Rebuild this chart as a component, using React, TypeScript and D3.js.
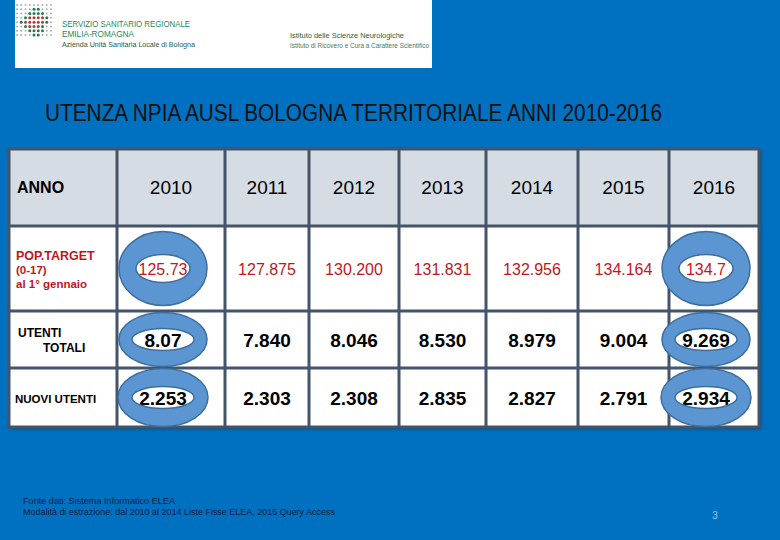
import React from "react";
import * as d3 from "d3";

// table content
const years = ["2010", "2011", "2012", "2013", "2014", "2015", "2016"];
const rowLabels = [
  ["POP.TARGET", "(0-17)", "al 1° gennaio"],
  ["UTENTI", "TOTALI"],
  ["NUOVI UTENTI"],
];
const popTarget = ["125.73", "127.875", "130.200", "131.831", "132.956", "134.164", "134.7"];
const utentiTotali = ["8.07", "7.840", "8.046", "8.530", "8.979", "9.004", "9.269"];
const nuoviUtenti = ["2.253", "2.303", "2.308", "2.835", "2.827", "2.791", "2.934"];
const circledYears = ["2010", "2016"];

const title = "UTENZA NPIA AUSL BOLOGNA TERRITORIALE ANNI 2010-2016";
const footer = [
  "Fonte dati: Sistema Informatico ELEA",
  "Modalità di estrazione: dal 2010 al 2014 Liste Fisse ELEA, 2015 Query Access",
];

// logo dot pattern: . light, G green, R red
const dotPattern = [
  ".........",
  "....GG...",
  "...GGGG..",
  "..GRRRRG.",
  ".GRRRRRG.",
  "..GRRRG..",
  "...GGGG..",
  "....GG...",
];

const W = 780;
const H = 540;
const BLUE = "#0070C0";
const BORDER = "#44546A";
const RED = "#C0161E";
const RING = "#5B96D2";
const RING_STROKE = "#3E6E9E";

const tableLeft = 9;
const tableTop = 149;
const colWidths = [108, 108, 84, 90, 87, 92, 91, 90];
const rowHeights = [77, 85, 57, 59];

const colEdges = [tableLeft, ...Array.from(d3.cumsum(colWidths), (d) => tableLeft + d)];
const rowEdges = [tableTop, ...Array.from(d3.cumsum(rowHeights), (d) => tableTop + d)];
const tableRight = colEdges[colEdges.length - 1];
const tableBottom = rowEdges[rowEdges.length - 1];

// year -> column center
const xCol = d3.scaleOrdinal<string, number>()
  .domain(years)
  .range(years.map((_, i) => (colEdges[i + 1] + colEdges[i + 2]) / 2));

const rowMid = (r: number) => (rowEdges[r] + rowEdges[r + 1]) / 2;

// ring shape per body row: outer rx, ry, hole rx, ry
const ringSizes = [
  { rx: 44, ry: 37, hrx: 27, hry: 14 },
  { rx: 44, ry: 27, hrx: 31, hry: 11 },
  { rx: 45, ry: 29, hrx: 31, hry: 11 },
];

function ellipsePath(cx: number, cy: number, rx: number, ry: number) {
  return `M${cx - rx},${cy}a${rx},${ry} 0 1,0 ${2 * rx},0a${rx},${ry} 0 1,0 ${-2 * rx},0Z`;
}

const bodyRows = [
  { values: popTarget, color: RED, size: 16, weight: "normal" },
  { values: utentiTotali, color: "#000", size: 19, weight: "bold" },
  { values: nuoviUtenti, color: "#000", size: 19, weight: "bold" },
];

const font = "'Liberation Sans', Arial, sans-serif";
const narrow = "'Liberation Sans Narrow', 'Liberation Sans', Arial, sans-serif";

function Logo() {
  const dx = d3.scaleLinear().domain([0, 8]).range([17, 51]);
  const dy = d3.scaleLinear().domain([0, 7]).range([5, 35]);
  const dotColor = { ".": "#A9B3AE", G: "#1E7F4E", R: "#B23A34" } as Record<string, string>;
  return (
    <g>
      <rect x={15} y={0} width={417} height={68} fill="#fff" />
      {dotPattern.map((row, r) =>
        row.split("").map((c, i) => (
          <circle key={`${r}-${i}`} cx={dx(i)} cy={dy(r)} r={c === "." ? 1 : 1.5} fill={dotColor[c]} />
        ))
      )}
      <text x={62} y={27} fontFamily={font} fontSize={9.5} fill="#23885A" textLength={128} lengthAdjust="spacingAndGlyphs">
        SERVIZIO SANITARIO REGIONALE
      </text>
      <text x={62} y={37} fontFamily={font} fontSize={9.5} fill="#23885A" textLength={72} lengthAdjust="spacingAndGlyphs">
        EMILIA-ROMAGNA
      </text>
      <text x={62} y={47} fontFamily={font} fontSize={7.5} fill="#1F5E40" textLength={133} lengthAdjust="spacingAndGlyphs">
        Azienda Unità Sanitaria Locale di Bologna
      </text>
      <text x={290} y={38} fontFamily={font} fontSize={7.5} fill="#1F5E40" textLength={114} lengthAdjust="spacingAndGlyphs">
        Istituto delle Scienze Neurologiche
      </text>
      <text x={290} y={48} fontFamily={font} fontSize={7} fill="#3F7A5E" textLength={139} lengthAdjust="spacingAndGlyphs">
        Istituto di Ricovero e Cura a Carattere Scientifico
      </text>
    </g>
  );
}

export default function App() {
  return (
    <svg width={W} height={H} style={{ position: "fixed", left: 0, top: 0, display: "block" }}>
      <defs>
        <filter id="shadow" x="-5%" y="-5%" width="110%" height="115%">
          <feDropShadow dx={2} dy={2} stdDeviation={1.5} floodColor="#1a2a40" floodOpacity={0.6} />
        </filter>
      </defs>
      <rect width={W} height={H} fill={BLUE} />
      <Logo />

      <text x={45} y={121} fontFamily={narrow} fontSize={23} fill="#111" textLength={617} lengthAdjust="spacingAndGlyphs">
        {title}
      </text>

      {/* table background */}
      <rect x={tableLeft} y={tableTop} width={tableRight - tableLeft} height={tableBottom - tableTop} fill="#fff" filter="url(#shadow)" />
      <rect x={tableLeft} y={rowEdges[0]} width={tableRight - tableLeft} height={rowHeights[0]} fill="#D6DCE4" />

      {/* header */}
      <text x={17} y={193} fontFamily={font} fontSize={16} fontWeight="bold" fill="#000">ANNO</text>
      {years.map((y) => (
        <text key={y} x={xCol(y)} y={194} textAnchor="middle" fontFamily={font} fontSize={19} fill="#000">
          {y}
        </text>
      ))}

      {/* row labels */}
      <g fontFamily={font} fontWeight="bold" fontSize={12}>
        {rowLabels[0].map((t, i) => (
          <text key={t} x={16} y={260 + i * 14} fill={RED} fontSize={i === 0 ? 12.5 : 11.5}>{t}</text>
        ))}
        <text x={18} y={337} fill="#000">{rowLabels[1][0]}</text>
        <text x={43} y={352} fill="#000">{rowLabels[1][1]}</text>
        <text x={15} y={403} fill="#000" fontSize={11.5}>{rowLabels[2][0]}</text>
      </g>

      {/* values */}
      {bodyRows.map((row, r) =>
        row.values.map((v, i) => {
          const yr = years[i];
          const circled = circledYears.includes(yr);
          const cx = xCol(yr) - (circled ? 8 : 0);
          return (
            <text
              key={`${r}-${yr}`}
              x={cx}
              y={rowMid(r + 1) + row.size * 0.36 + 1}
              textAnchor="middle"
              fontFamily={font}
              fontSize={row.size}
              fontWeight={row.weight}
              fill={row.color}
            >
              {v}
            </text>
          );
        })
      )}

      {/* grid lines */}
      <g stroke={BORDER} strokeWidth={3}>
        {colEdges.map((x, i) => (
          <line key={`c${i}`} x1={x} x2={x} y1={tableTop} y2={tableBottom} />
        ))}
        {rowEdges.map((y, i) => (
          <line key={`r${i}`} x1={tableLeft - 1.5} x2={tableRight + 1.5} y1={y} y2={y} />
        ))}
      </g>

      {/* ring highlights */}
      {bodyRows.map((_, r) =>
        circledYears.map((yr) => {
          const s = ringSizes[r];
          const cx = xCol(yr) - 8;
          const cy = rowMid(r + 1);
          return (
            <path
              key={`ring-${r}-${yr}`}
              d={ellipsePath(cx, cy, s.rx, s.ry) + ellipsePath(cx, cy, s.hrx, s.hry)}
              fill={RING}
              fillRule="evenodd"
              stroke={RING_STROKE}
              strokeWidth={1.5}
            />
          );
        })
      )}

      {/* footer */}
      <text x={23} y={504} fontFamily={narrow} fontSize={8.5} fill="#14213D" textLength={152} lengthAdjust="spacingAndGlyphs">
        {footer[0]}
      </text>
      <text x={23} y={515} fontFamily={narrow} fontSize={8.5} fill="#14213D" textLength={312} lengthAdjust="spacingAndGlyphs">
        {footer[1]}
      </text>
      <text x={715} y={519} fontFamily={font} fontSize={10} fill="#9DC3E6" textAnchor="middle">3</text>
    </svg>
  );
}
